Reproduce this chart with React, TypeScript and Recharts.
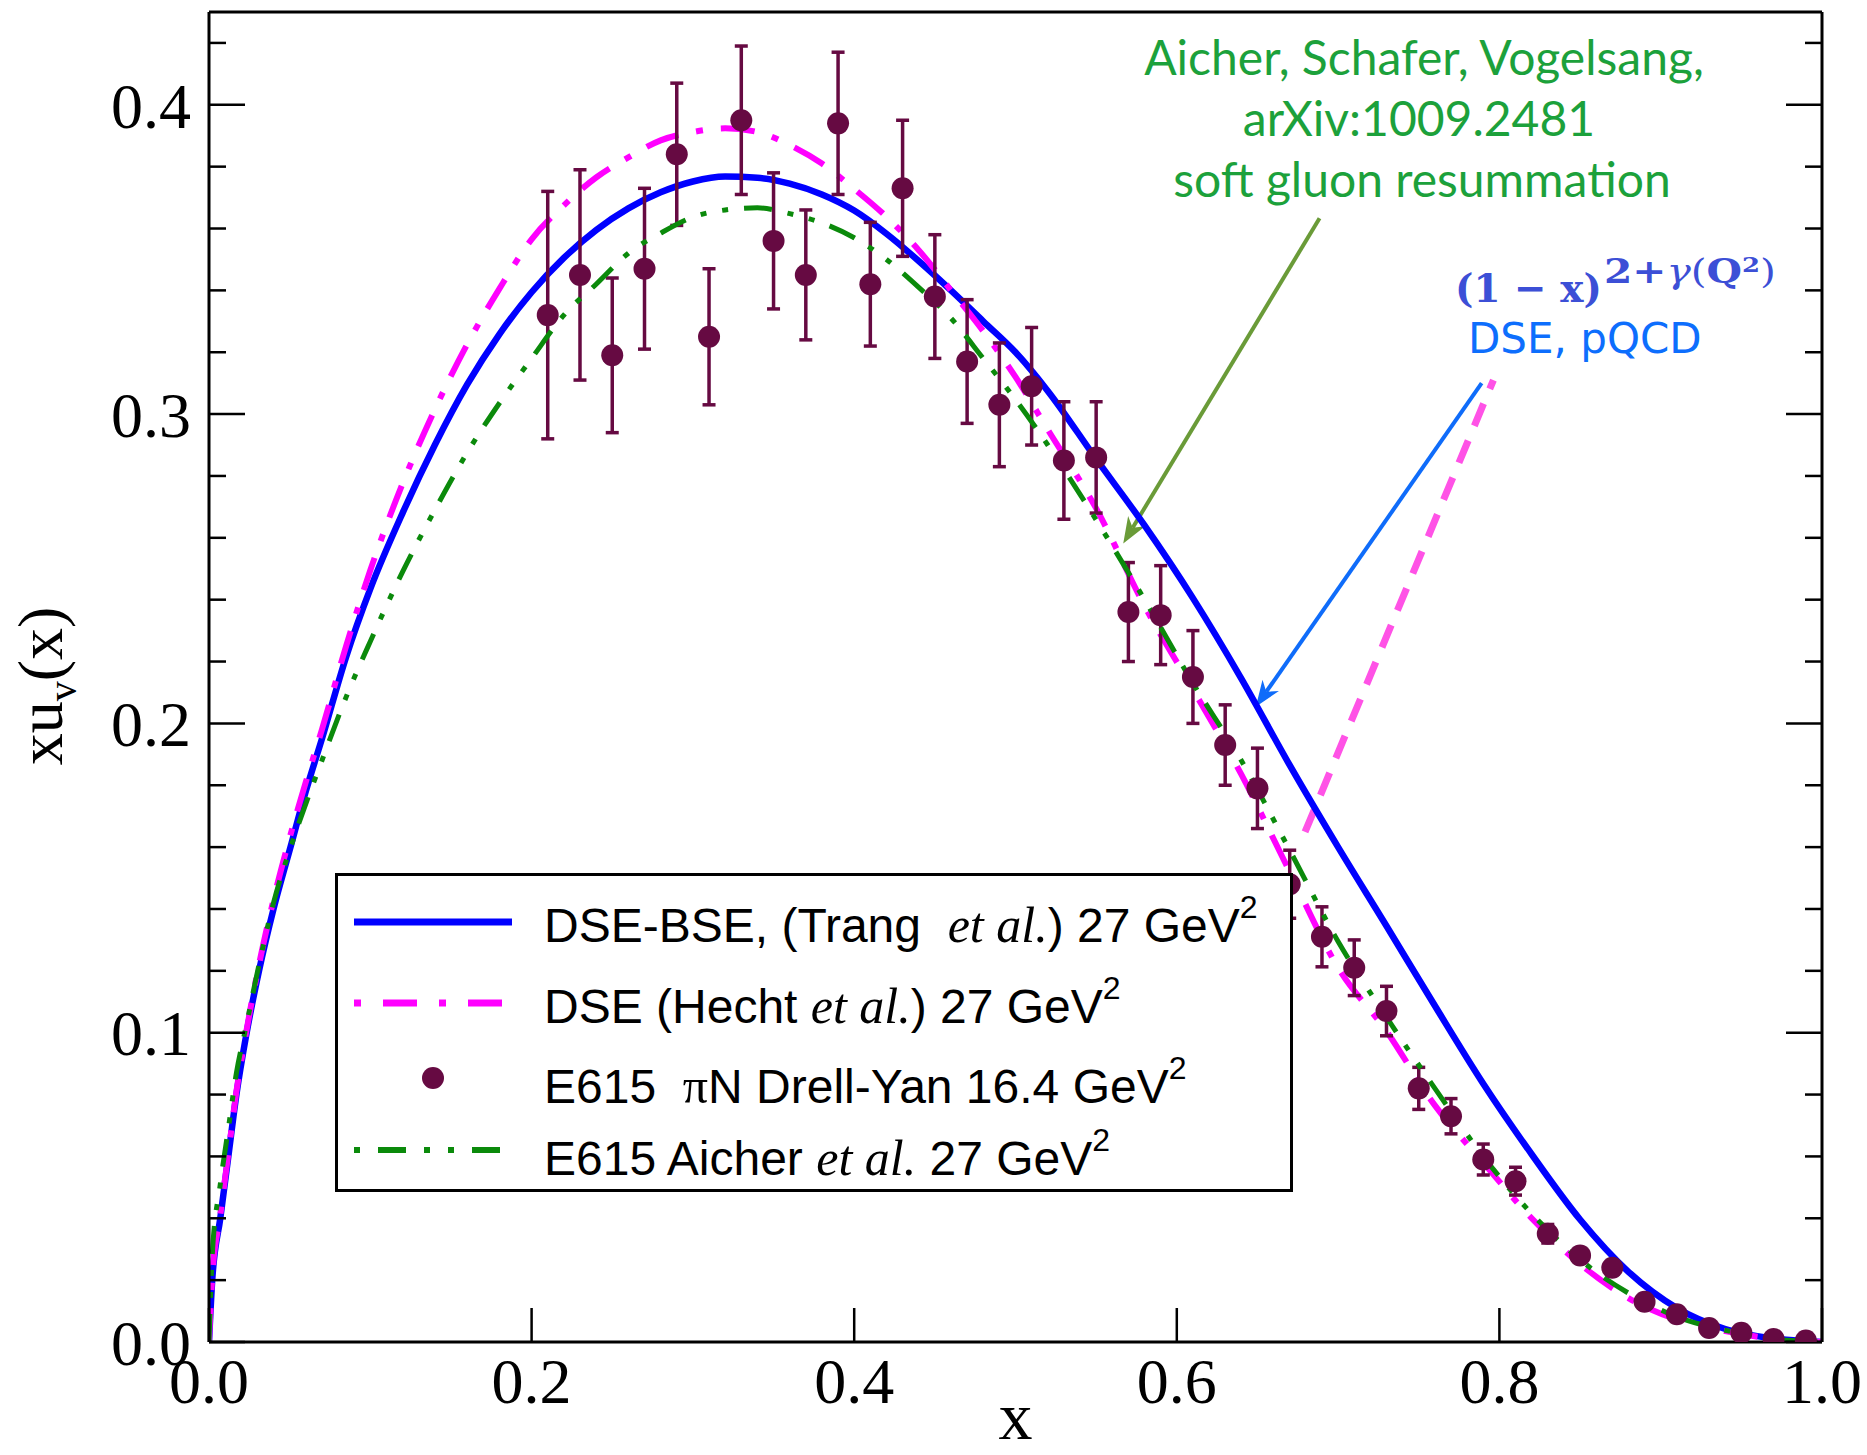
import {
  ComposedChart,
  ErrorBar,
  Label,
  Legend,
  Line,
  ReferenceLine,
  Scatter,
  XAxis,
  YAxis,
} from "recharts";

// x grid shared by the three model curves
const CURVE_X = [
  0, 0.002, 0.007, 0.012, 0.017, 0.023, 0.031, 0.04, 0.05, 0.06,
  0.07, 0.085, 0.1, 0.12, 0.14, 0.16, 0.18, 0.2, 0.22, 0.24,
  0.26, 0.28, 0.3, 0.32, 0.34, 0.36, 0.38, 0.4, 0.42, 0.44,
  0.46, 0.48, 0.5, 0.52, 0.55, 0.58, 0.61, 0.64, 0.67, 0.7,
  0.73, 0.76, 0.79, 0.82, 0.85, 0.88, 0.91, 0.94, 0.97, 1.0,
];

// DSE-BSE (Trang et al.) 27 GeV^2
const DSE_BSE = [
  0, 0.02, 0.04, 0.06, 0.08, 0.099, 0.12, 0.14, 0.159, 0.178,
  0.195, 0.2215, 0.2435, 0.268, 0.29, 0.3095, 0.3258, 0.3394, 0.3505, 0.3595,
  0.3665, 0.3717, 0.3752, 0.3768, 0.3764, 0.3745, 0.371, 0.3658, 0.3583, 0.3495,
  0.34, 0.33, 0.32, 0.3075, 0.2855, 0.264, 0.2405, 0.2145, 0.1865, 0.16,
  0.1345, 0.1087, 0.0835, 0.0607, 0.0396, 0.0227, 0.011, 0.0042, 0.0011, 0,
];

// DSE (Hecht et al.) 27 GeV^2
const DSE_HECHT = [
  0, 0.021, 0.041, 0.061, 0.081, 0.1, 0.122, 0.143, 0.163, 0.181,
  0.198, 0.225, 0.2495, 0.2775, 0.3015, 0.3225, 0.3405, 0.3565, 0.3675, 0.3765,
  0.383, 0.3885, 0.3912, 0.3924, 0.3912, 0.387, 0.381, 0.3728, 0.3638, 0.353,
  0.34, 0.3268, 0.312, 0.295, 0.2695, 0.238, 0.211, 0.1835, 0.152, 0.121,
  0.1005, 0.0765, 0.058, 0.04, 0.0252, 0.0142, 0.0072, 0.0035, 0.001, 0,
];

// E615 Aicher et al. 27 GeV^2
const AICHER = [
  0, 0.028, 0.051, 0.069, 0.087, 0.102, 0.122, 0.142, 0.159, 0.174,
  0.188, 0.2085, 0.2265, 0.249, 0.269, 0.2875, 0.3035, 0.318, 0.332, 0.342,
  0.352, 0.3585, 0.3637, 0.366, 0.3667, 0.3648, 0.3618, 0.357, 0.35, 0.341,
  0.331, 0.318, 0.3047, 0.29, 0.2658, 0.24, 0.213, 0.188, 0.159, 0.1295,
  0.105, 0.082, 0.06, 0.0415, 0.0266, 0.0158, 0.0082, 0.0038, 0.001, 0,
];

// E615 pi N Drell-Yan 16.4 GeV^2
const E615_X = [
  0.21, 0.23, 0.25, 0.27, 0.29, 0.31, 0.33, 0.35, 0.37, 0.39,
  0.41, 0.43, 0.45, 0.47, 0.49, 0.51, 0.53, 0.55, 0.57, 0.59,
  0.61, 0.63, 0.65, 0.67, 0.69, 0.71, 0.73, 0.75, 0.77, 0.79,
  0.81, 0.83, 0.85, 0.87, 0.89, 0.91, 0.93, 0.95, 0.97, 0.99,
];
const E615_Y = [
  0.332, 0.345, 0.319, 0.347, 0.384, 0.325, 0.395, 0.356, 0.345, 0.394,
  0.342, 0.373, 0.338, 0.317, 0.303, 0.309, 0.285, 0.286, 0.236, 0.235,
  0.215, 0.193, 0.179, 0.148, 0.131, 0.121, 0.107, 0.082, 0.073, 0.059,
  0.052, 0.035, 0.028, 0.024, 0.013, 0.009, 0.0045, 0.003, 0.001, 0.0005,
];
const E615_ERR = [
  0.04, 0.034, 0.025, 0.026, 0.023, 0.022, 0.024, 0.022, 0.021, 0.023,
  0.02, 0.022, 0.02, 0.02, 0.02, 0.019, 0.019, 0.018, 0.016, 0.016,
  0.015, 0.013, 0.013, 0.011, 0.0097, 0.009, 0.008, 0.0068, 0.0057, 0.005,
  0.0045, 0.003, 0.002, 0.002, 0.001, 0.001, 0.0005, 0, 0, 0,
];

const X_MAJOR = [0, 0.2, 0.4, 0.6, 0.8, 1.0];
const X_MINOR = [
  0.04, 0.08, 0.12, 0.16, 0.24, 0.28, 0.32, 0.36, 0.44, 0.48,
  0.52, 0.56, 0.64, 0.68, 0.72, 0.76, 0.84, 0.88, 0.92, 0.96,
];
const Y_MAJOR = [0, 0.1, 0.2, 0.3, 0.4];
const Y_MINOR = [
  0.02, 0.04, 0.06, 0.08, 0.12, 0.14, 0.16, 0.18, 0.22, 0.24,
  0.26, 0.28, 0.32, 0.34, 0.36, 0.38, 0.42,
];

// annotation segments, in data units
const PQCD_LINE = [{ x: 0.6795, y: 0.1649 }, { x: 0.7963, y: 0.311 }];
const ARROW_AICHER = [{ x: 0.6885, y: 0.3633 }, { x: 0.5668, y: 0.2582 }];
const ARROW_DSE = [{ x: 0.789, y: 0.31 }, { x: 0.649, y: 0.2054 }];

const BLUE = "#0000ff";
const MAGENTA = "#ff00ff";
const GREEN = "#0b8a0b";
const MAROON = "#660a42";
const SERIF = "'Liberation Serif', 'Times New Roman', serif";
const SANS = "'Liberation Sans', Arial, sans-serif";
const MATH = "'DejaVu Serif', serif";

const blueData = CURVE_X.map((x, i) => ({ x, y: DSE_BSE[i] }));
const hechtData = CURVE_X.map((x, i) => ({ x, y: DSE_HECHT[i] }));
const aicherData = CURVE_X.map((x, i) => ({ x, y: AICHER[i] }));
const e615Data = E615_X.map((x, i) => ({ x, y: E615_Y[i], err: E615_ERR[i] }));

const noLabel = () => "";

const arrowShape = (color: string) => (p: any) => {
  const { x1, y1, x2, y2 } = p;
  const a = Math.atan2(y2 - y1, x2 - x1);
  const c = Math.cos(a);
  const s = Math.sin(a);
  const len = 26;
  const half = 10;
  const bx = x2 - len * c;
  const by = y2 - len * s;
  const nx = x2 - len * 0.7 * c;
  const ny = y2 - len * 0.7 * s;
  const pts = [
    [x2, y2],
    [bx - half * s, by + half * c],
    [nx, ny],
    [bx + half * s, by - half * c],
  ]
    .map((q) => q.join(","))
    .join(" ");
  return (
    <g>
      <line x1={x1} y1={y1} x2={nx} y2={ny} stroke={color} strokeWidth={4} />
      <polygon points={pts} fill={color} />
    </g>
  );
};

const YLabel = (props: any) => {
  const vb = props.viewBox;
  const cx = vb.x + 62;
  const cy = vb.y + vb.height / 2 + 9;
  return (
    <text
      x={cx}
      y={cy}
      transform={`rotate(-90, ${cx}, ${cy})`}
      textAnchor="middle"
      fontFamily={SERIF}
      fontSize={64}
      fill="#000"
    >
      xu<tspan dy={14} fontSize={40}>v</tspan>
      <tspan dy={-14}>(x)</tspan>
    </text>
  );
};

const XLabel = (props: any) => {
  const vb = props.viewBox;
  return (
    <text
      x={vb.x + vb.width / 2}
      y={vb.y + vb.height - 16}
      textAnchor="middle"
      fontFamily={SERIF}
      fontSize={68}
      fill="#000"
    >
      x
    </text>
  );
};

const LegendBox = () => {
  const txt = { fontFamily: SANS, fontSize: 48, fill: "#000" } as const;
  const ital = { fontFamily: SERIF, fontStyle: "italic", fontSize: 50 } as const;
  const sup = (
    <tspan dy={-24} fontSize={32}>
      2
    </tspan>
  );
  return (
    <svg width={958} height={319} style={{ display: "block" }}>
      <rect x={1.5} y={1.5} width={955} height={316} fill="#fff" stroke="#000" strokeWidth={3} />
      <line x1={19} y1={49} x2={177} y2={49} stroke={BLUE} strokeWidth={7} />
      <line x1={19} y1={130} x2={177} y2={130} stroke={MAGENTA} strokeWidth={7} strokeDasharray="7 22 34 22" />
      <circle cx={98} cy={205} r={11} fill={MAROON} />
      <line x1={19} y1={277} x2={177} y2={277} stroke={GREEN} strokeWidth={6} strokeDasharray="6 18 28 18 6 18" />
      <text x={209} y={69} {...txt} style={{ whiteSpace: "pre" }}>
        {"DSE-BSE, (Trang  "}
        <tspan {...ital}>et al.</tspan>
        {") 27 GeV"}
        {sup}
      </text>
      <text x={209} y={150} {...txt} style={{ whiteSpace: "pre" }}>
        {"DSE (Hecht "}
        <tspan {...ital}>et al.</tspan>
        {") 27 GeV"}
        {sup}
      </text>
      <text x={209} y={230} {...txt} style={{ whiteSpace: "pre" }}>
        {"E615  "}
        <tspan fontFamily={SERIF} fontSize={50}>π</tspan>
        {"N Drell-Yan 16.4 GeV"}
        {sup}
      </text>
      <text x={209} y={302} {...txt} style={{ whiteSpace: "pre" }}>
        {"E615 Aicher "}
        <tspan {...ital}>et al.</tspan>
        {" 27 GeV"}
        {sup}
      </text>
    </svg>
  );
};

const Annotations = () => (
  <svg
    width={1867}
    height={1455}
    style={{ position: "absolute", left: 0, top: 0, pointerEvents: "none" }}
  >
    <g fontFamily="Lato, 'Open Sans', sans-serif" fontSize={48} fill="#1ca13b" textAnchor="middle">
      <text x={1424} y={75}>Aicher, Schafer, Vogelsang,</text>
      <text x={1419} y={136}>arXiv:1009.2481</text>
      <text x={1422} y={197}>soft gluon resummation</text>
    </g>
    <g fill="#3c4fd6" fontFamily={MATH} fontWeight="bold">
      <text x={1455} y={302} fontSize={40} textLength={147} lengthAdjust="spacingAndGlyphs" style={{ whiteSpace: "pre" }}>
        {"(1 − x)"}
      </text>
      <text x={1604} y={283} fontSize={33} textLength={172} lengthAdjust="spacingAndGlyphs">
        2+<tspan fontStyle="italic" fontWeight="normal">γ</tspan>
        <tspan fontWeight="normal">(</tspan>
        <tspan>Q</tspan>
        <tspan dy={-11} fontSize={21}>2</tspan>
        <tspan dy={11} fontWeight="normal">)</tspan>
      </text>
    </g>
    <text x={1468} y={353} fontFamily="'DejaVu Sans', sans-serif" fontSize={42} fill="#0d6efd">
      DSE, pQCD
    </text>
  </svg>
);

export default function App() {
  const axisStroke = { stroke: "#000", strokeWidth: 3 };
  const tickStroke = { stroke: "#000", strokeWidth: 2.5 };
  const tickFont = { fontSize: 64, fontFamily: SERIF, fill: "#000" };
  return (
    <div style={{ position: "absolute", left: 0, top: 0, width: 1867, height: 1455, background: "#fff" }}>
      <ComposedChart width={1867} height={1455} margin={{ top: 12, right: 45, bottom: 0, left: 0 }}>
        <XAxis
          xAxisId="x"
          type="number"
          dataKey="x"
          domain={[0, 1]}
          ticks={X_MAJOR}
          interval={0}
          allowDataOverflow
          height={113}
          tickSize={-34}
          tickMargin={50}
          tick={tickFont}
          tickFormatter={(v: number) => v.toFixed(1)}
          axisLine={axisStroke}
          tickLine={tickStroke}
        >
          <Label content={XLabel} />
        </XAxis>
        <XAxis xAxisId="xm" type="number" domain={[0, 1]} allowDataOverflow ticks={X_MINOR} interval={0} mirror height={1}
          tickSize={16} tickFormatter={noLabel} axisLine={false} tickLine={tickStroke} />
        <XAxis xAxisId="xt" orientation="top" type="number" domain={[0, 1]} allowDataOverflow ticks={X_MAJOR} interval={0} mirror height={1}
          tickSize={36} tickFormatter={noLabel} axisLine={axisStroke} tickLine={tickStroke} />
        <XAxis xAxisId="xtm" orientation="top" type="number" domain={[0, 1]} allowDataOverflow ticks={X_MINOR} interval={0} mirror height={1}
          tickSize={16} tickFormatter={noLabel} axisLine={false} tickLine={tickStroke} />

        <YAxis
          yAxisId="y"
          type="number"
          dataKey="y"
          domain={[0, 0.43]}
          ticks={Y_MAJOR}
          interval={0}
          allowDataOverflow
          width={209}
          tickSize={-36}
          tickMargin={54}
          tick={tickFont}
          tickFormatter={(v: number) => v.toFixed(1)}
          axisLine={axisStroke}
          tickLine={tickStroke}
        >
          <Label content={YLabel} />
        </YAxis>
        <YAxis yAxisId="ym" type="number" domain={[0, 0.43]} allowDataOverflow ticks={Y_MINOR} interval={0} mirror width={1}
          tickSize={17} tickFormatter={noLabel} axisLine={false} tickLine={tickStroke} />
        <YAxis yAxisId="yr" orientation="right" type="number" domain={[0, 0.43]} allowDataOverflow ticks={Y_MAJOR} interval={0} mirror width={1}
          tickSize={36} tickFormatter={noLabel} axisLine={axisStroke} tickLine={tickStroke} />
        <YAxis yAxisId="yrm" orientation="right" type="number" domain={[0, 0.43]} allowDataOverflow ticks={Y_MINOR} interval={0} mirror width={1}
          tickSize={16} tickFormatter={noLabel} axisLine={false} tickLine={tickStroke} />

        <ReferenceLine xAxisId="x" yAxisId="y" segment={PQCD_LINE} stroke="#ff52e6" strokeWidth={7} strokeDasharray="24 16" />
        <ReferenceLine xAxisId="x" yAxisId="y" segment={ARROW_AICHER} shape={arrowShape("#6a9b38")} />
        <ReferenceLine xAxisId="x" yAxisId="y" segment={ARROW_DSE} shape={arrowShape("#0f6cfa")} />

        <Line xAxisId="x" yAxisId="y" data={blueData} dataKey="y" type="monotone" stroke={BLUE}
          strokeWidth={6.5} dot={false} isAnimationActive={false} />
        <Line xAxisId="x" yAxisId="y" data={hechtData} dataKey="y" type="monotone" stroke={MAGENTA}
          strokeWidth={6} strokeDasharray="34 18 7 18" dot={false} isAnimationActive={false} />
        <Scatter
          xAxisId="x"
          yAxisId="y"
          data={e615Data}
          dataKey="y"
          fill={MAROON}
          isAnimationActive={false}
          shape={(p: any) => <circle cx={p.cx} cy={p.cy} r={11} fill={MAROON} />}
        >
          <ErrorBar dataKey="err" direction="y" width={6.5} stroke={MAROON} strokeWidth={3.5} isAnimationActive={false} />
        </Scatter>
        <Line xAxisId="x" yAxisId="y" data={aicherData} dataKey="y" type="monotone" stroke={GREEN}
          strokeWidth={5} strokeDasharray="28 16 6 16 6 16" dot={false} isAnimationActive={false} />

        <Legend
          layout="vertical"
          align="center"
          verticalAlign="middle"
          content={() => <LegendBox />}
          wrapperStyle={{ left: 335, top: 873, width: 958, height: 319 }}
        />
      </ComposedChart>
      <Annotations />
    </div>
  );
}
